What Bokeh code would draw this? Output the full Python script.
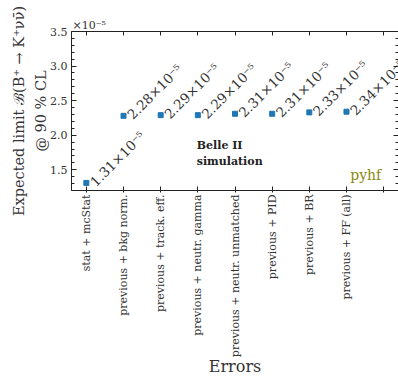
import math
from bokeh.plotting import figure
from bokeh.models import (FixedTicker, LinearAxis, Label, ColumnDataSource,
                          PrintfTickFormatter, Range1d)
from bokeh.embed import file_html
from bokeh.resources import INLINE
from bokeh.core.properties import value

# ---- data ----
categories = ["stat + mcStat", "previous + bkg norm.", "previous + track. eff.",
              "previous + neutr. gamma", "previous + neutr. unmatched",
              "previous + PID", "previous + BR", "previous + FF (all)"]
limits = [1.31, 2.28, 2.29, 2.29, 2.31, 2.31, 2.33, 2.34]   # x 1e-5
y_major = [1.5, 2.0, 2.5, 3.0, 3.5]
y_minor = [round(1.2 + 0.1 * i, 1) for i in range(24)]
x_ticks = list(range(len(categories) + 1))
x_title = "Errors"
y_title = "Expected limit \u212c(B\u207a \u2192 K\u207a\u03bd\u03bd\u0304)\n@ 90 % CL"

FONT = "DejaVu Serif"
TXT = "#333333"
LINE = "#222222"

xs = list(range(len(categories)))
src = ColumnDataSource(dict(
    x=xs, y=limits,
    label=[f"{v:.2f}\u00d710\u207b\u2075" for v in limits],
))

p = figure(width=398, height=379, output_backend="svg", toolbar_location=None,
           x_range=Range1d(-0.4, 8.4), y_range=Range1d(1.2, 3.5),
           min_border_left=71, min_border_right=0, min_border_top=31,
           min_border_bottom=186, x_axis_location="below", y_axis_location="left")
p.outline_line_color = None
p.grid.visible = False
p.background_fill_color = "white"
p.border_fill_color = "white"

# scale factor shown above the frame, left aligned
p.title.text = "\u00d710\u207b\u2075"
p.title.align = "left"
p.title.offset = 1
p.title.standoff = 0
p.title.text_font = FONT
p.title.text_font_size = "11px"
p.title.text_font_style = "normal"
p.title.text_color = TXT

# bottom axis
xa = p.xaxis[0]
xa.ticker = FixedTicker(ticks=x_ticks)
overrides = {i: c for i, c in enumerate(categories)}
overrides[len(categories)] = ""
xa.major_label_overrides = overrides
xa.major_label_orientation = math.pi / 2
xa.major_label_text_font = FONT
xa.major_label_text_font_size = "11px"
xa.major_label_text_color = TXT
xa.major_label_standoff = 2
xa.major_tick_in = 4
xa.major_tick_out = 2
xa.minor_tick_line_color = None
xa.axis_label = x_title
xa.axis_label_text_font = FONT
xa.axis_label_text_font_size = "16px"
xa.axis_label_text_font_style = "normal"
xa.axis_label_text_color = TXT
xa.axis_label_standoff = -3
xa.axis_line_color = LINE
xa.major_tick_line_color = LINE

# left axis
ya = p.yaxis[0]
ya.ticker = FixedTicker(ticks=y_major, minor_ticks=y_minor)
ya.formatter = PrintfTickFormatter(format="%.1f")
ya.major_label_text_font = FONT
ya.major_label_text_font_size = "11px"
ya.major_label_text_color = TXT
ya.major_label_standoff = 4
ya.major_tick_in = 5
ya.major_tick_out = 0
ya.minor_tick_in = 3
ya.minor_tick_out = 0
ya.axis_label = y_title
ya.axis_label_text_font = FONT
ya.axis_label_text_font_size = "14.5px"
ya.axis_label_text_font_style = "normal"
ya.axis_label_text_color = TXT
ya.axis_label_text_line_height = 1.35
ya.axis_label_standoff = -2
ya.axis_line_color = LINE
ya.major_tick_line_color = LINE
ya.minor_tick_line_color = LINE

# top axis (ticks only)
top = LinearAxis(ticker=FixedTicker(ticks=x_ticks),
                 major_label_overrides={t: "" for t in x_ticks},
                 major_tick_in=4, major_tick_out=0, minor_tick_line_color=None,
                 axis_line_color=LINE, major_tick_line_color=LINE,
                 major_label_standoff=0)
p.add_layout(top, "above")

# right axis (inward ticks only, spine hidden)
right = LinearAxis(ticker=FixedTicker(ticks=y_major, minor_ticks=y_minor),
                   major_label_overrides={t: "" for t in y_major},
                   major_label_standoff=0,
                   major_tick_in=5, major_tick_out=0, minor_tick_in=3, minor_tick_out=0,
                   axis_line_color=None, major_tick_line_color=LINE,
                   minor_tick_line_color=LINE)
p.add_layout(right, "right")

# data
p.scatter(x="x", y="y", source=src, marker="square", size=5,
          fill_color="#1f77b4", line_color="#1f77b4")
p.text(x="x", y="y", text="label", source=src, angle=math.pi / 4,
       x_offset=6, y_offset=1, text_align="left", text_baseline="middle",
       text_font=value(FONT), text_font_size="13.5px", text_color=TXT)

# annotations
p.add_layout(Label(x=2.97, y=1.85, text="Belle II", text_font=FONT,
                   text_font_size="11px", text_font_style="bold", text_color="#222222",
                   text_baseline="alphabetic"))
p.add_layout(Label(x=2.97, y=1.625, text="simulation", text_font=FONT,
                   text_font_size="11px", text_font_style="bold", text_color="#222222",
                   text_baseline="alphabetic"))
p.add_layout(Label(x=7.1, y=1.43, text="pyhf", text_font=FONT,
                   text_font_size="14px", text_color="#8a8a10",
                   text_baseline="alphabetic"))

open("out.html", "w").write(file_html(p, INLINE))
